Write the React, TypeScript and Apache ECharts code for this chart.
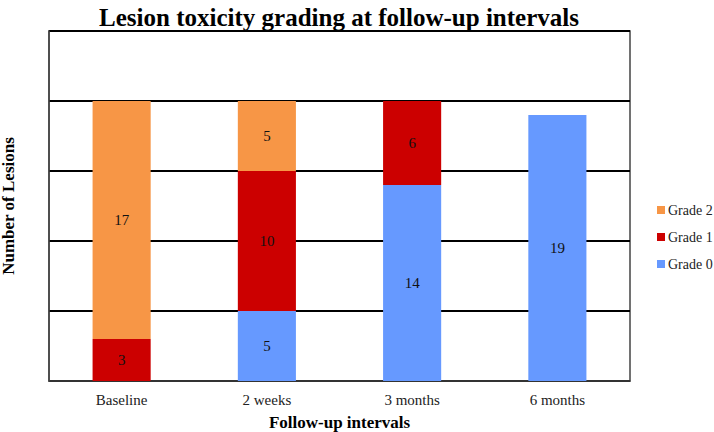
import React, { useEffect, useRef } from "react";
import * as echarts from "echarts";

const categories = ["Baseline", "2 weeks", "3 months", "6 months"];
const grade0 = [null, 5, 14, 19];
const grade1 = [3, 10, 6, null];
const grade2 = [17, 5, null, null];
const seriesNames = ["Grade 0", "Grade 1", "Grade 2"];
const seriesColors = ["#6699FF", "#CC0000", "#F79646"];
const legendOrder = ["Grade 2", "Grade 1", "Grade 0"];

const FONT = "'Liberation Serif', 'DejaVu Serif', serif";

export default function App() {
  const ref = useRef<HTMLDivElement>(null);
  useEffect(() => {
    document.body.style.margin = "0";
    if (!ref.current) return;
    const chart = echarts.init(ref.current, null, { renderer: "svg" });
    const data = [grade0, grade1, grade2];
    chart.setOption({
      animation: false,
      backgroundColor: "#ffffff",
      title: {
        text: "Lesion toxicity grading at follow-up intervals",
        left: 334,
        textAlign: "center",
        top: 0,
        textStyle: { fontFamily: FONT, fontWeight: "bold", fontSize: 25, color: "#000" },
      },
      legend: {
        orient: "vertical",
        left: 652,
        top: 198,
        itemWidth: 8,
        itemHeight: 8,
        itemGap: 13,
        icon: "rect",
        data: legendOrder,
        textStyle: { fontFamily: FONT, fontSize: 14, color: "#222", padding: [0, 0, 0, -2] },
      },
      grid: {
        left: 49,
        right: 84,
        top: 31,
        bottom: 51,
        show: true,
        borderColor: "#444",
        borderWidth: 1.5,
        outerBoundsMode: "none",
        containLabel: false,
      },
      xAxis: {
        type: "category",
        data: categories,
        name: "Follow-up intervals",
        nameLocation: "middle",
        nameGap: 33,
        nameTextStyle: { fontFamily: FONT, fontWeight: "bold", fontSize: 17, color: "#000" },
        axisTick: { show: false },
        axisLine: { show: true, lineStyle: { color: "#444", width: 1.5 } },
        axisLabel: { fontFamily: FONT, fontSize: 15, color: "#222", margin: 11 },
      },
      yAxis: {
        type: "value",
        min: 0,
        max: 25,
        interval: 5,
        name: "Number of Lesions",
        nameLocation: "middle",
        nameGap: 32,
        nameTextStyle: { fontFamily: FONT, fontWeight: "bold", fontSize: 17, color: "#000" },
        axisLabel: { show: false },
        axisTick: { show: false },
        axisLine: { show: true, lineStyle: { color: "#444", width: 1.5 } },
        splitLine: { show: true, lineStyle: { color: "#000", width: 2 } },
      },
      series: seriesNames.map((name, i) => ({
        name,
        type: "bar",
        stack: "total",
        barWidth: "40%",
        data: data[i],
        itemStyle: { color: seriesColors[i] },
        label: {
          show: true,
          position: "inside",
          fontFamily: FONT,
          fontSize: 15,
          color: "#111",
        },
      })),
    });
    return () => chart.dispose();
  }, []);
  return <div ref={ref} style={{ width: 714, height: 432 }} />;
}
